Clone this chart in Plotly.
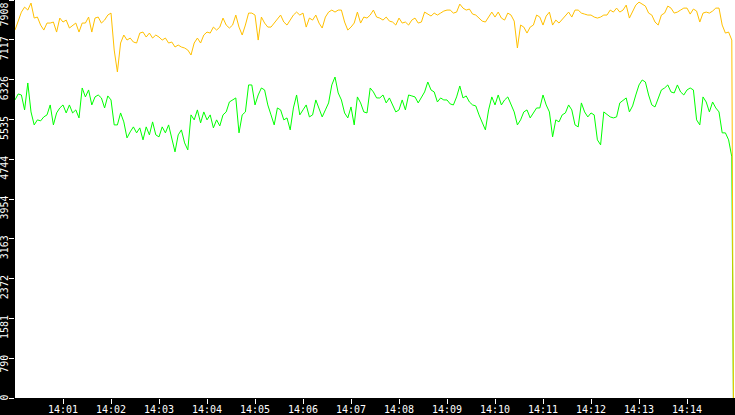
import pandas as pd
import plotly.graph_objects as go

# two sampled series, one reading every 4 s from 14:00:00, last sample is the drop to 0
start = "2024-01-01 14:00:00"
step_s = 4

yellow = [7311, 7509, 7668, 7767, 7708, 7847, 7549, 7569, 7410, 7311,
          7450, 7450, 7470, 7271, 7549, 7470, 7509, 7351, 7410, 7450,
          7271, 7450, 7450, 7569, 7271, 7549, 7569, 7450, 7509, 7609,
          7648, 6914, 6478, 7053, 7212, 7112, 7152, 7073, 7053, 7251,
          7271, 7172, 7251, 7152, 7212, 7172, 7112, 7152, 7053, 7073,
          6974, 7013, 6974, 6954, 6914, 6815, 7053, 7152, 7053, 7212,
          7271, 7251, 7370, 7311, 7370, 7549, 7410, 7351, 7410, 7609,
          7370, 7212, 7410, 7648,
          7648, 7609, 7112, 7569, 7450, 7370, 7370, 7450, 7549, 7609,
          7470, 7410, 7509, 7609, 7668, 7609, 7648, 7370, 7549, 7509,
          7609, 7450, 7351, 7569,
          7668, 7708, 7668, 7708, 7708, 7470, 7311, 7370, 7450, 7668,
          7450, 7569, 7549, 7609, 7708, 7569, 7549, 7509, 7569, 7489,
          7470, 7410, 7549, 7450, 7470,
          7410, 7509, 7549, 7450, 7470, 7668, 7628, 7589, 7648, 7609,
          7648, 7688, 7708, 7708, 7648, 7668, 7827, 7747, 7708, 7728,
          7628, 7609, 7549, 7489, 7470,
          7569, 7668, 7569, 7668, 7549, 7509, 7648, 7609, 7489, 6954,
          7410, 7370, 7251, 7370, 7410, 7609, 7569, 7410, 7589, 7668,
          7410, 7509, 7450, 7529, 7609,
          7668, 7569, 7708, 7708, 7648, 7628, 7609, 7609, 7569, 7549,
          7569, 7609, 7609, 7708, 7668, 7747, 7668, 7708, 7807, 7549,
          7668, 7807, 7866, 7827, 7787, 7648, 7609, 7470, 7410, 7609,
          7648, 7787, 7747, 7648, 7668, 7708, 7747, 7747, 7628, 7728,
          7688, 7470, 7648, 7668, 7648, 7688, 7747, 7747, 7410, 7251,
          7271, 7112, 0]

green = [5922, 6041, 6021, 5724, 6259, 5684, 5426, 5526, 5506, 5585,
         5625, 5823, 5426, 5664, 5763, 5823, 5664, 5823, 5664, 5724,
         5565, 6160, 5982, 6121, 5823, 5982, 6021, 5962, 5763, 6002,
         5922, 5426, 5426, 5664, 5486, 5168, 5288, 5387, 5268, 5367,
         5129, 5387, 5228, 5486, 5228, 5188, 5387, 5268, 5426, 5129,
         4890, 5228, 5327, 5069, 4930, 5625, 5526, 5724, 5466, 5684,
         5526, 5625, 5367, 5526, 5406, 5625, 5684, 5882, 5922, 5962,
         5268, 5625, 5684, 6220,
         6220, 5823, 6021, 6160, 6121, 5823, 5625, 5426, 5763, 5724,
         5526, 5565, 5327, 5763, 6021, 5625, 5724, 5823, 5585, 5625,
         5922, 5763, 5585, 5724,
         5863, 6220, 6378, 6061, 5922, 5664, 5565, 5783, 5426, 5982,
         5863, 5684, 5664, 6160, 6081, 5962, 5962, 6021, 5863, 5962,
         5823, 5684, 5724, 5922, 5724,
         6021, 6002, 5982, 5863, 5962, 6081, 6279, 6121, 6081, 5882,
         5962, 5922, 5922, 5843, 5823, 5982, 6200, 5962, 6002, 5882,
         5823, 5803, 5625, 5486, 5327,
         5724, 5982, 5823, 6021, 5823, 5922, 5982, 5823, 5684, 5426,
         5526, 5684, 5724, 5565, 5664, 5763, 5763, 6021, 5823, 5684,
         5188, 5526, 5486, 5625, 5664,
         5823, 5724, 5426, 5387, 5863, 5684, 5585, 5664, 5625, 5129,
         5030, 5684, 5625, 5585, 5565, 5585, 5863, 5922, 5962, 5684,
         5803, 6021, 6220, 6319, 6279, 6021, 5823, 5783, 5962, 6121,
         6160, 6220, 6081, 6061, 6220, 6081, 6021, 6121, 6160, 6121,
         5526, 5426, 5982, 5882, 5684, 5882, 5763, 5684, 5268, 5268,
         5129, 4791, 0]

y_max = 7908
y_labels = ["0", "790", "1581", "2372", "3163", "3954", "4744", "5535", "6326", "7117", "7908"]
x_labels = ["14:01", "14:02", "14:03", "14:04", "14:05", "14:06", "14:07",
            "14:08", "14:09", "14:10", "14:11", "14:12", "14:13", "14:14"]

t0 = pd.Timestamp(start)
times = [t0 + pd.Timedelta(seconds=step_s * i) for i in range(len(yellow) - 1)]
times.append(times[-1] + pd.Timedelta(seconds=2))  # the final drop

x_vals = [pd.Timestamp("2024-01-01 " + s) for s in x_labels]
y_vals = [y_max * i / 10 for i in range(len(y_labels))]
# pad with nbsp so every rotated label ends at its tick, like the original
y_text = [s.rjust(4, "\u00a0") for s in y_labels]
y_text[-1] = ""  # top label would be clipped, it goes in an annotation below

fig = go.Figure()
fig.add_trace(go.Scatter(x=times, y=green, mode="lines",
                         line=dict(color="#00ff00", width=1)))
fig.add_trace(go.Scatter(x=times, y=yellow, mode="lines",
                         line=dict(color="#ffc000", width=1)))

axis_font = dict(family="DejaVu Sans Mono", size=10, color="white")
fig.update_layout(
    width=735, height=415,
    margin=dict(l=15, r=0, t=0, b=17, autoexpand=False),
    paper_bgcolor="black", plot_bgcolor="white",
    showlegend=False,
    xaxis=dict(range=[t0, t0 + pd.Timedelta(minutes=15)],
               tickvals=x_vals, ticktext=x_labels,
               ticks="outside", ticklen=5, tickcolor="white", tickwidth=1,
               ticklabelstandoff=-3,
               tickfont=axis_font, showgrid=False, zeroline=False,
               showline=False, automargin=False),
    yaxis=dict(range=[0, y_max],
               tickvals=y_vals, ticktext=y_text,
               ticks="outside", ticklen=5, tickcolor="white", tickwidth=1,
               tickangle=-90, ticklabelshift=10, ticklabelstandoff=-3,
               ticklabeloverflow="allow",
               tickfont=axis_font, showgrid=False, zeroline=False,
               showline=False, automargin=False),
)
fig.add_annotation(x=0, xref="paper", y=y_max, yref="y", text=y_labels[-1],
                   textangle=-90, showarrow=False, xanchor="right", yanchor="top",
                   xshift=-5, yshift=-2, font=axis_font,
                   borderpad=0, align="left")

# the page's default body margin would push the figure off the window
fig.write_html("out.html", config={"displayModeBar": False},
               post_script="document.body.style.margin='0';")
